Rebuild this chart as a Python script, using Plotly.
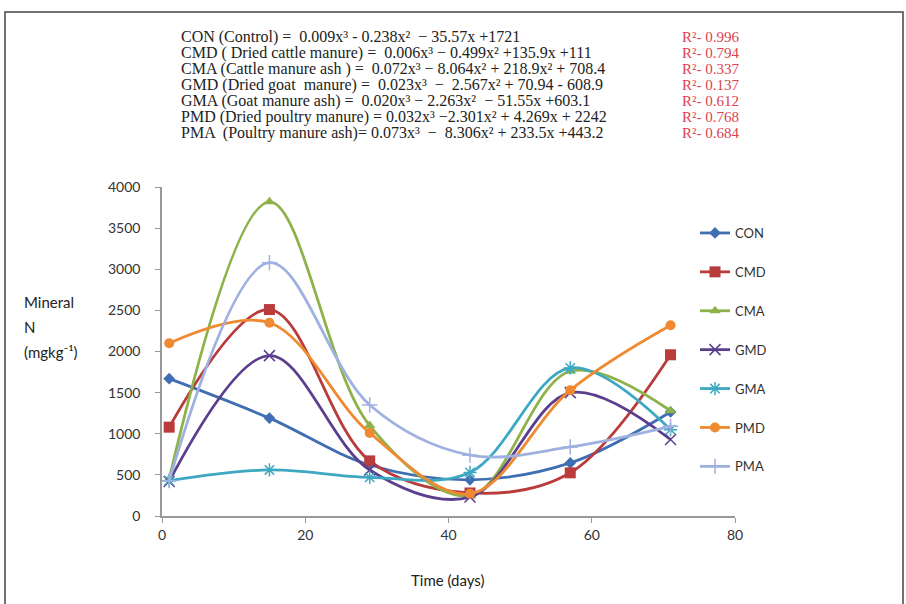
import plotly.graph_objects as go

days = [1, 15, 29, 43, 57, 71]
series_names = ["CON", "CMD", "CMA", "GMD", "GMA", "PMD", "PMA"]
con = [1670, 1190, 620, 440, 645, 1265]
cmd = [1080, 2510, 670, 280, 525, 1960]
cma = [450, 3820, 1100, 250, 1760, 1280]
gmd = [420, 1950, 560, 230, 1500, 930]
gma = [430, 560, 470, 530, 1800, 1050]
pmd = [2100, 2350, 1010, 270, 1530, 2320]
pma = [430, 3080, 1350, 740, 840, 1090]
values = [con, cmd, cma, gmd, gma, pmd, pma]

equations = [
    "CON (Control) =  0.009x³ - 0.238x²  − 35.57x +1721",
    "CMD ( Dried cattle manure) =  0.006x³ − 0.499x² +135.9x +111",
    "CMA (Cattle manure ash ) =  0.072x³ − 8.064x² + 218.9x² + 708.4",
    "GMD (Dried goat  manure) =  0.023x³  −  2.567x² + 70.94 - 608.9",
    "GMA (Goat manure ash) =  0.020x³ − 2.263x²  − 51.55x +603.1",
    "PMD (Dried poultry manure) = 0.032x³ −2.301x² + 4.269x + 2242",
    "PMA  (Poultry manure ash)= 0.073x³  −  8.306x² + 233.5x +443.2",
]
r2 = ["R²- 0.996", "R²- 0.794", "R²- 0.337", "R²- 0.137", "R²- 0.612", "R²- 0.768", "R²- 0.684"]
y_title_lines = ["Mineral", "N", "(mgkg⁻¹)"]

colors = ["#3F6EB2", "#B93B3B", "#8DB24A", "#5B3F8E", "#3CA8C2", "#F08A32", "#9EB1E0"]
symbols = ["diamond", "square", "triangle-up", "x-thin-open", "asterisk-open", "circle", "cross-thin-open"]
sizes = [9, 11, 10, 11, 11, 10, 11]

fig = go.Figure()
for i, name in enumerate(series_names):
    open_sym = symbols[i].endswith("open")
    fig.add_trace(go.Scatter(
        x=days, y=values[i], name=name, mode="lines+markers",
        legendgroup=name,
        line=dict(color=colors[i], width=2.8, shape="spline", smoothing=1),
        marker=dict(symbol=symbols[i], size=sizes[i], color=colors[i],
                    line=dict(color=colors[i], width=1.5 if open_sym else 0)),
    ))

W, H = 906, 604
L, T = 162, 187
pw, ph = 573, 329
R = W - L - pw
B = H - T - ph

def px(x):
    return (x - L) / pw

def py(y):
    return (T + ph - y) / ph

annotations = []
for k, (eq, r) in enumerate(zip(equations, r2)):
    yy = 37 + k * 16
    annotations.append(dict(x=px(179), y=py(yy), xref="paper", yref="paper", text=eq,
                            showarrow=False, xanchor="left", yanchor="middle",
                            font=dict(family="Liberation Serif", size=16, color="#222")))
    annotations.append(dict(x=px(680), y=py(yy), xref="paper", yref="paper", text=r,
                            showarrow=False, xanchor="left", yanchor="middle",
                            font=dict(family="Liberation Serif", size=15, color="#D9434E")))

for k, t in enumerate(y_title_lines):
    annotations.append(dict(x=px(22), y=py(302 + 25 * k), xref="paper", yref="paper",
                            text=t, showarrow=False, align="left",
                            xanchor="left", yanchor="middle",
                            font=dict(family="Lato", size=15, color="#222")))
annotations.append(dict(x=px(448), y=py(580), xref="paper", yref="paper",
                        text="Time (days)", showarrow=False, xanchor="center", yanchor="middle",
                        font=dict(family="Lato", size=15, color="#222")))

fig.update_layout(
    width=W, height=H,
    margin=dict(l=L, r=R, t=T, b=B, autoexpand=False),
    paper_bgcolor="white", plot_bgcolor="white",
    annotations=annotations,
    showlegend=True,
    legend=dict(x=px(695), y=py(218), xanchor="left", yanchor="top",
                font=dict(family="Lato", size=13, color="#333"),
                tracegroupgap=19, itemwidth=30, bgcolor="rgba(0,0,0,0)"),
    shapes=[dict(type="rect", xref="paper", yref="paper",
                 x0=px(5), x1=px(903), y0=py(640), y1=py(12),
                 line=dict(color="#444", width=1.5), layer="below")],
)
fig.update_xaxes(range=[0, 80], tickvals=[0, 20, 40, 60, 80], showgrid=False, zeroline=False,
                 showline=True, linecolor="#999", linewidth=1.5, ticks="outside", ticklen=5,
                 tickcolor="#999", tickfont=dict(family="Lato", size=14, color="#333"))
fig.update_yaxes(range=[0, 4000], tickvals=list(range(0, 4001, 500)), showgrid=False, zeroline=False,
                 showline=True, linecolor="#999", linewidth=1.5, ticks="outside", ticklen=5,
                 ticklabelstandoff=12,
                 tickcolor="#999", tickfont=dict(family="Lato", size=14, color="#333"))

fig.write_html("out.html", config={"displayModeBar": False},
               post_script="document.body.style.margin='0px';")
